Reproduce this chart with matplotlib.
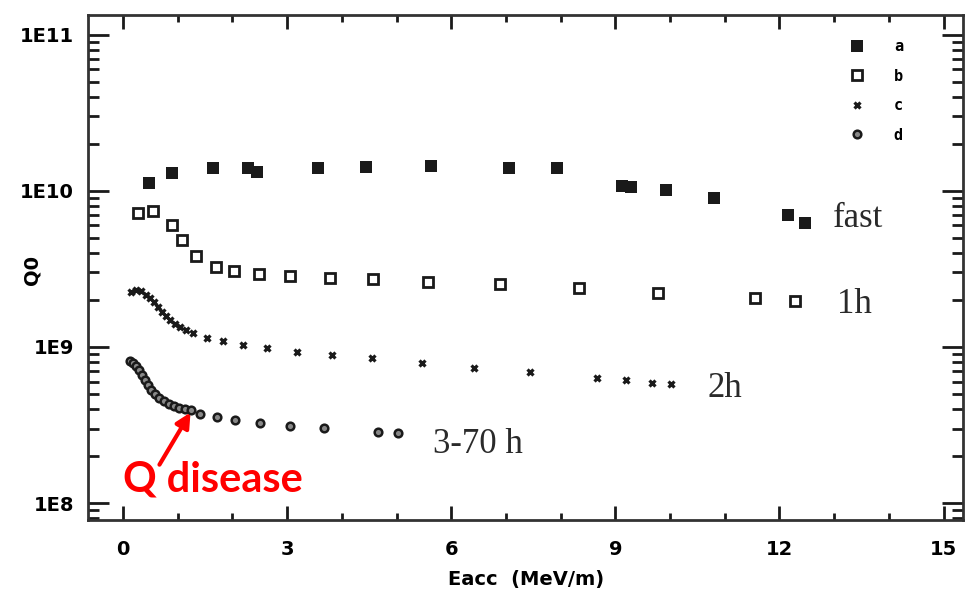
import numpy as np
import matplotlib
matplotlib.use("Agg")
import matplotlib.pyplot as plt

# Q0 vs Eacc after different bake/cooldown conditions
a_x = [0.48, 0.90, 1.64, 2.29, 2.45, 3.56, 4.44, 5.63, 7.06, 7.93, 9.12, 9.28, 9.93, 10.80, 12.16, 12.47]
a_q = [1.12e10, 1.30e10, 1.40e10, 1.40e10, 1.32e10, 1.40e10, 1.43e10, 1.45e10, 1.40e10, 1.40e10,
       1.08e10, 1.06e10, 1.01e10, 9.0e9, 7.0e9, 6.2e9]

b_x = [0.27, 0.55, 0.90, 1.08, 1.33, 1.70, 2.03, 2.49, 3.05, 3.78, 4.57, 5.58, 6.89, 8.34, 9.78, 11.55, 12.29]
b_q = [7.2e9, 7.4e9, 6.0e9, 4.85e9, 3.83e9, 3.26e9, 3.07e9, 2.94e9, 2.85e9, 2.77e9, 2.73e9, 2.61e9,
       2.54e9, 2.39e9, 2.22e9, 2.06e9, 1.97e9]

c_x = [0.15, 0.24, 0.33, 0.42, 0.49, 0.57, 0.64, 0.71, 0.79, 0.86, 0.95, 1.04, 1.15, 1.28, 1.54, 1.83,
       2.19, 2.63, 3.18, 3.82, 4.55, 5.47, 6.42, 7.44, 8.67, 9.20, 9.67, 10.02]
c_q = [2.25e9, 2.32e9, 2.28e9, 2.15e9, 2.06e9, 1.94e9, 1.80e9, 1.67e9, 1.58e9, 1.49e9, 1.40e9, 1.34e9,
       1.28e9, 1.23e9, 1.14e9, 1.09e9, 1.03e9, 9.86e8, 9.29e8, 8.89e8, 8.50e8, 7.89e8, 7.33e8, 6.92e8,
       6.33e8, 6.14e8, 5.87e8, 5.79e8]

d_x = [0.13, 0.18, 0.24, 0.29, 0.35, 0.40, 0.46, 0.51, 0.59, 0.66, 0.75, 0.84, 0.93, 1.02, 1.13, 1.24,
       1.41, 1.72, 2.05, 2.50, 3.05, 3.67, 4.66, 5.03]
d_q = [8.13e8, 7.89e8, 7.55e8, 7.12e8, 6.62e8, 6.14e8, 5.70e8, 5.30e8, 5.00e8, 4.71e8, 4.51e8, 4.31e8,
       4.19e8, 4.07e8, 4.01e8, 3.95e8, 3.72e8, 3.56e8, 3.40e8, 3.26e8, 3.12e8, 3.03e8, 2.85e8, 2.81e8]

series_labels = ['a', 'b', 'c', 'd']
curve_names = ['fast', '1h', '2h', '3-70 h']
x_ticks = [0, 3, 6, 9, 12, 15]
y_ticks = [1e8, 1e9, 1e10, 1e11]
y_ticklabels = ['1E8', '1E9', '1E10', '1E11']

ink = '#1a1a1a'

fig = plt.figure(figsize=(9.65, 5.93), dpi=100)
ax = fig.add_axes([0.0912, 0.123, 0.907, 0.852])

la, = ax.plot(a_x, a_q, 's', color=ink, ms=8, mew=0, label=series_labels[0])
lb, = ax.plot(b_x, b_q, 's', mfc='white', mec=ink, ms=7.5, mew=2, label=series_labels[1])
lc, = ax.plot(c_x, c_q, 'x', color=ink, ms=5, mew=2.3, label=series_labels[2])
ld, = ax.plot(d_x, d_q, 'o', mfc='#888888', mec=ink, ms=5.5, mew=1.8, label=series_labels[3])

ax.set_yscale('log')
ax.set_xlim(-0.64, 15.36)
ax.set_ylim(7.78e7, 1.34e11)

ax.set_xticks(x_ticks)
ax.set_xticks(np.arange(0, 16, 1), minor=True)
ax.set_yticks(y_ticks)
ax.set_yticklabels(y_ticklabels)
ax.tick_params(which='both', direction='in', top=True, right=True, color=ink, width=2)
ax.tick_params(which='major', length=10)
ax.tick_params(which='minor', length=5)
ax.tick_params(axis='y', which='major', length=15, pad=10)
ax.tick_params(axis='y', which='minor', length=8)
ax.tick_params(axis='x', which='major', pad=14)
for lab in ax.get_xticklabels() + ax.get_yticklabels():
    lab.set_fontweight('bold')
    lab.set_fontsize(14)
for sp in ax.spines.values():
    sp.set_color('#333333')
    sp.set_linewidth(2)

ax.set_xlabel('Eacc  (MeV/m)', fontsize=14, fontweight='bold', labelpad=8)
ax.set_ylabel('Q0', fontsize=14, fontweight='bold')
ax.yaxis.set_label_coords(-0.053, 0.495)

ax.legend(handles=[la, lb, lc, ld], loc='upper left', bbox_to_anchor=(0.870, 0.952),
          frameon=False, handlelength=1.0, handletextpad=1.9, labelspacing=0.95,
          borderpad=0, borderaxespad=0, numpoints=1,
          prop=dict(family='DejaVu Sans Mono', weight='bold', size=11))

serif = 'Liberation Serif'
txt_color = '#2a2a2a'
ax.text(12.98, 5.87e9, curve_names[0], family=serif, fontsize=25, va='baseline', color=txt_color)
ax.text(13.05, 1.65e9, curve_names[1], family=serif, fontsize=25, va='baseline', color=txt_color)
ax.text(10.68, 4.77e8, curve_names[2], family=serif, fontsize=25, va='baseline', color=txt_color)
ax.text(5.67, 2.09e8, curve_names[3], family=serif, fontsize=25, va='baseline', color=txt_color)

ax.text(0.0, 1.19e8, 'Q disease', family='Lato', fontweight='bold', fontsize=30,
        color='#ff0000', va='baseline')
ax.annotate('', xy=(1.26, 3.94e8), xytext=(0.64, 1.70e8),
            arrowprops=dict(arrowstyle='-|>', color='#ff0000', lw=3, mutation_scale=22))

fig.savefig('out.png', dpi=100)
